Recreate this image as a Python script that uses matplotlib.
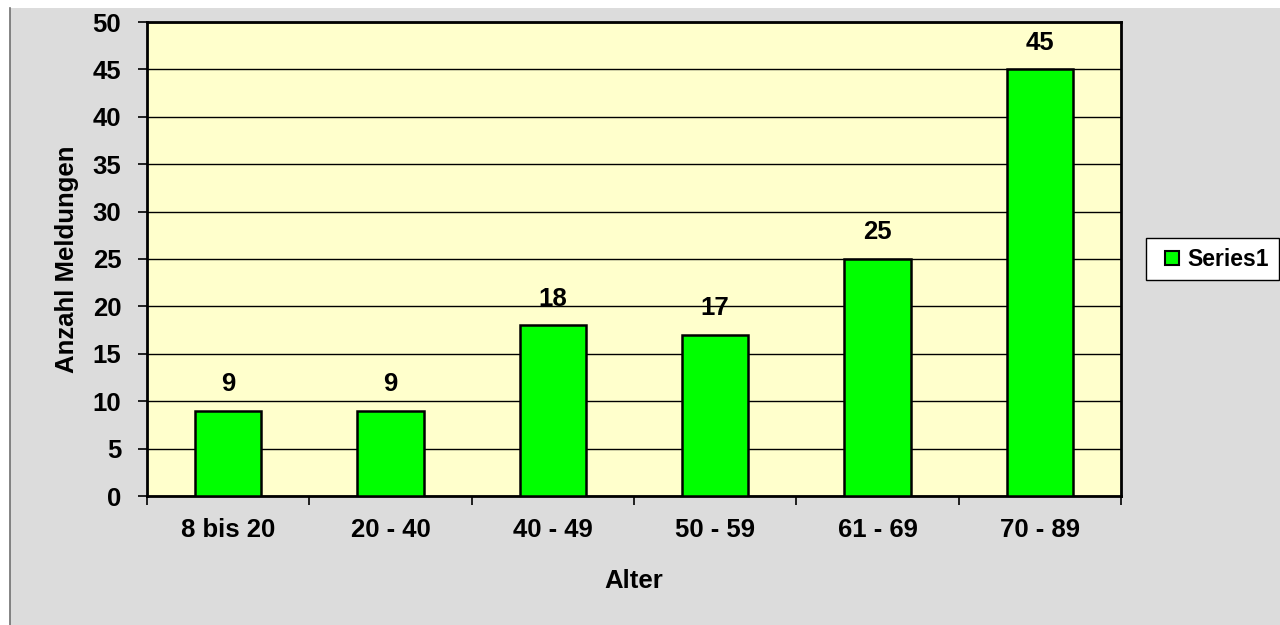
import matplotlib.pyplot as plt
from matplotlib.patches import Rectangle
from matplotlib.lines import Line2D

plt.rcParams['font.family'] = ['Liberation Sans', 'DejaVu Sans']
plt.rcParams['font.weight'] = 'bold'

categories = ['8 bis 20', '20 - 40', '40 - 49', '50 - 59', '61 - 69', '70 - 89']
values = [9, 9, 18, 17, 25, 45]
yticks = list(range(0, 51, 5))

fig = plt.figure(figsize=(12.8, 6.25), dpi=100)
fig.patch.set_facecolor('white')
# grey chart area background
bg = Rectangle((10/1280, 0), 1 - 10/1280, 1 - 8/625, transform=fig.transFigure,
               facecolor='#dcdcdc', edgecolor='none', zorder=-10)
fig.add_artist(bg)
fig.add_artist(Line2D([10/1280, 10/1280], [0, 1 - 8/625], transform=fig.transFigure,
                      color='#707070', lw=1.2, zorder=-9))

ax = fig.add_axes([147/1280, 129/625, 974/1280, 474/625])
ax.set_facecolor('#FFFFCC')
x = list(range(len(categories)))
bars = ax.bar(x, values, width=0.41, color='#00FF00', edgecolor='black', linewidth=1.8,
              label='Series1', zorder=3)
for xi, v in zip(x, values):
    ax.text(xi, v + 2.8, str(v), ha='center', va='center', fontsize=18.5, fontweight='bold')

ax.set_xlim(-0.5, len(categories) - 0.5)
ax.set_ylim(0, 50)
ax.set_yticks(yticks)
ax.yaxis.grid(True, color='black', lw=1)
ax.set_axisbelow(True)
ax.set_xticks([i - 0.5 for i in range(len(categories) + 1)])
ax.set_xticklabels([])
ax.set_xticks(x, minor=True)
ax.set_xticklabels(categories, minor=True)
ax.tick_params(axis='x', which='minor', length=0, pad=16, labelsize=18.5)
ax.tick_params(axis='x', which='major', length=6.5, width=1.2, direction='out')
ax.tick_params(axis='y', length=6.5, width=1.2, direction='out', labelsize=18.5, pad=12)
for s in ax.spines.values():
    s.set_linewidth(2)

ax.set_ylabel('Anzahl Meldungen', fontsize=18.5, fontweight='bold', labelpad=10)
ax.set_xlabel('Alter', fontsize=18.5, fontweight='bold', labelpad=19)

handle = Line2D([], [], linestyle='none', marker='s', markersize=9.5,
                markerfacecolor='#00FF00', markeredgecolor='black', markeredgewidth=1.5)
leg = fig.legend(handles=[handle], labels=['Series1'], loc='upper left',
                 bbox_to_anchor=(1146/1280, 1 - 238/625), frameon=True, fancybox=False,
                 fontsize=16.5, handlelength=1.4, handletextpad=0.0,
                 borderpad=0.42, borderaxespad=0, edgecolor='black', facecolor='white',
                 framealpha=1)
leg.get_frame().set_linewidth(1.0)
for t in leg.get_texts():
    t.set_fontweight('bold')

fig.savefig('out.png', dpi=100)
